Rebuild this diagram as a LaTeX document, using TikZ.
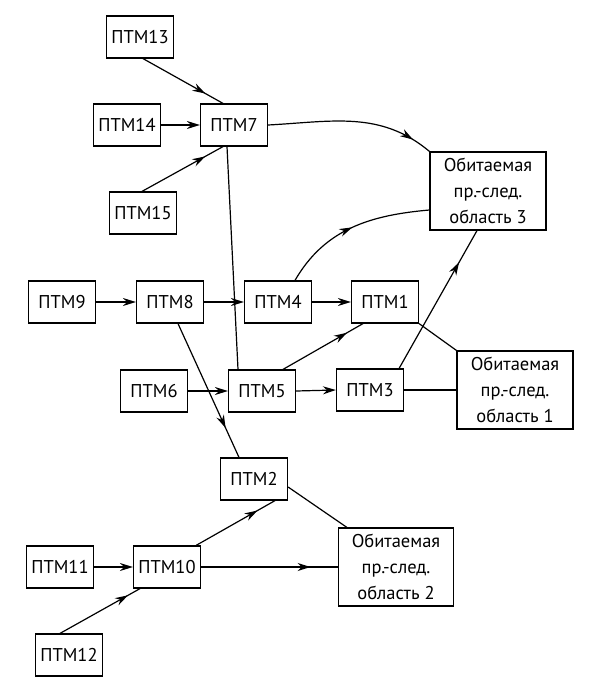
\documentclass[tikz,border=0pt]{standalone}
\usepackage{fontspec}
\setmainfont{PT Sans}
\usetikzlibrary{arrows.meta,decorations.markings,calc}
\begin{document}
\begin{tikzpicture}[x=1pt,y=-1pt,
  box/.style={draw,line width=1.2pt,minimum width=67pt,minimum height=42pt,inner sep=0pt,font=\fontsize{18.5}{20}\selectfont},
  area/.style={draw,line width=1.2pt,minimum width=116pt,minimum height=78pt,inner sep=0pt,align=center,font=\fontsize{18.5}{26}\selectfont},
  conn/.style={line width=1.2pt},
  endarrow/.style={conn,-{Stealth[length=13pt,width=8pt]}},
  midarrow/.style={conn,postaction={decorate},decoration={markings,mark=at position #1 with {\arrow{Stealth[length=13pt,width=8pt]}}}}
]
\useasboundingbox (0,0) rectangle (600,695);
\node[box] (n13) at (140,37) {ПТМ13};
\node[box] (n14) at (127,125) {ПТМ14};
\node[box] (n7) at (234,125) {ПТМ7};
\node[box] (n15) at (143,213) {ПТМ15};
\node[box] (n9) at (62,302) {ПТМ9};
\node[box] (n8) at (170,302) {ПТМ8};
\node[box] (n4) at (278,302) {ПТМ4};
\node[box] (n1) at (385,302) {ПТМ1};
\node[box] (n6) at (154,391) {ПТМ6};
\node[box] (n5) at (262,391) {ПТМ5};
\node[box] (n3) at (370,390) {ПТМ3};
\node[box] (n2) at (254,479) {ПТМ2};
\node[box] (n11) at (60,567) {ПТМ11};
\node[box] (n10) at (167,567) {ПТМ10};
\node[box] (n12) at (69,655) {ПТМ12};
\node[area] (r3) at (488,191) {Обитаемая\\пр.-след.\\область 3};
\node[area] (r1) at (515,390) {Обитаемая\\пр.-след.\\область 1};
\node[area,minimum width=115pt] (r2) at (396,567) {Обитаемая\\пр.-след.\\область 2};

\draw[midarrow=0.78] ([xshift=3pt]n13.south) -- ([xshift=-11pt]n7.north);
\draw[endarrow] (n14.east) -- (n7.west);
\draw[midarrow=0.78] ([xshift=-1pt]n15.north) -- ([xshift=-11pt]n7.south);
\draw[midarrow=0.88] (n7.east) to[out=3,in=140] (r3.north west);
\draw[conn] ([xshift=-7pt]n7.south) -- ([xshift=-24pt]n5.north);
\draw[midarrow=0.5] ([xshift=17pt]n4.north) to[out=60,in=185] ([yshift=-19pt]r3.west);
\draw[midarrow=0.77] ([xshift=-5pt]n3.north east) -- ([xshift=-11pt]r3.south);
\draw[endarrow] (n9.east) -- (n8.west);
\draw[endarrow] (n8.east) -- (n4.west);
\draw[endarrow] (n4.east) -- (n1.west);
\draw[midarrow=0.78] ([xshift=8pt]n8.south) -- ([xshift=-15pt]n2.north);
\draw[endarrow] (n6.east) -- (n5.west);
\draw[endarrow] (n5.east) -- (n3.west);
\draw[midarrow=0.8] ([xshift=21pt]n5.north) -- ([xshift=-22pt]n1.south);
\draw[conn] (n1.south east) -- (r1.north west);
\draw[conn] (n3.east) -- (r1.west);
\draw[conn] ([yshift=-8pt]n2.east) -- ([xshift=9pt]r2.north west);
\draw[midarrow=0.78] ([xshift=-5pt]n10.north east) -- ([xshift=21pt]n2.south);
\draw[midarrow=0.8] (n10.east) -- (r2.west);
\draw[endarrow] (n11.east) -- (n10.west);
\draw[midarrow=0.85] ([xshift=-9pt]n12.north) -- ([xshift=-27pt]n10.south);
\end{tikzpicture}
\end{document}
